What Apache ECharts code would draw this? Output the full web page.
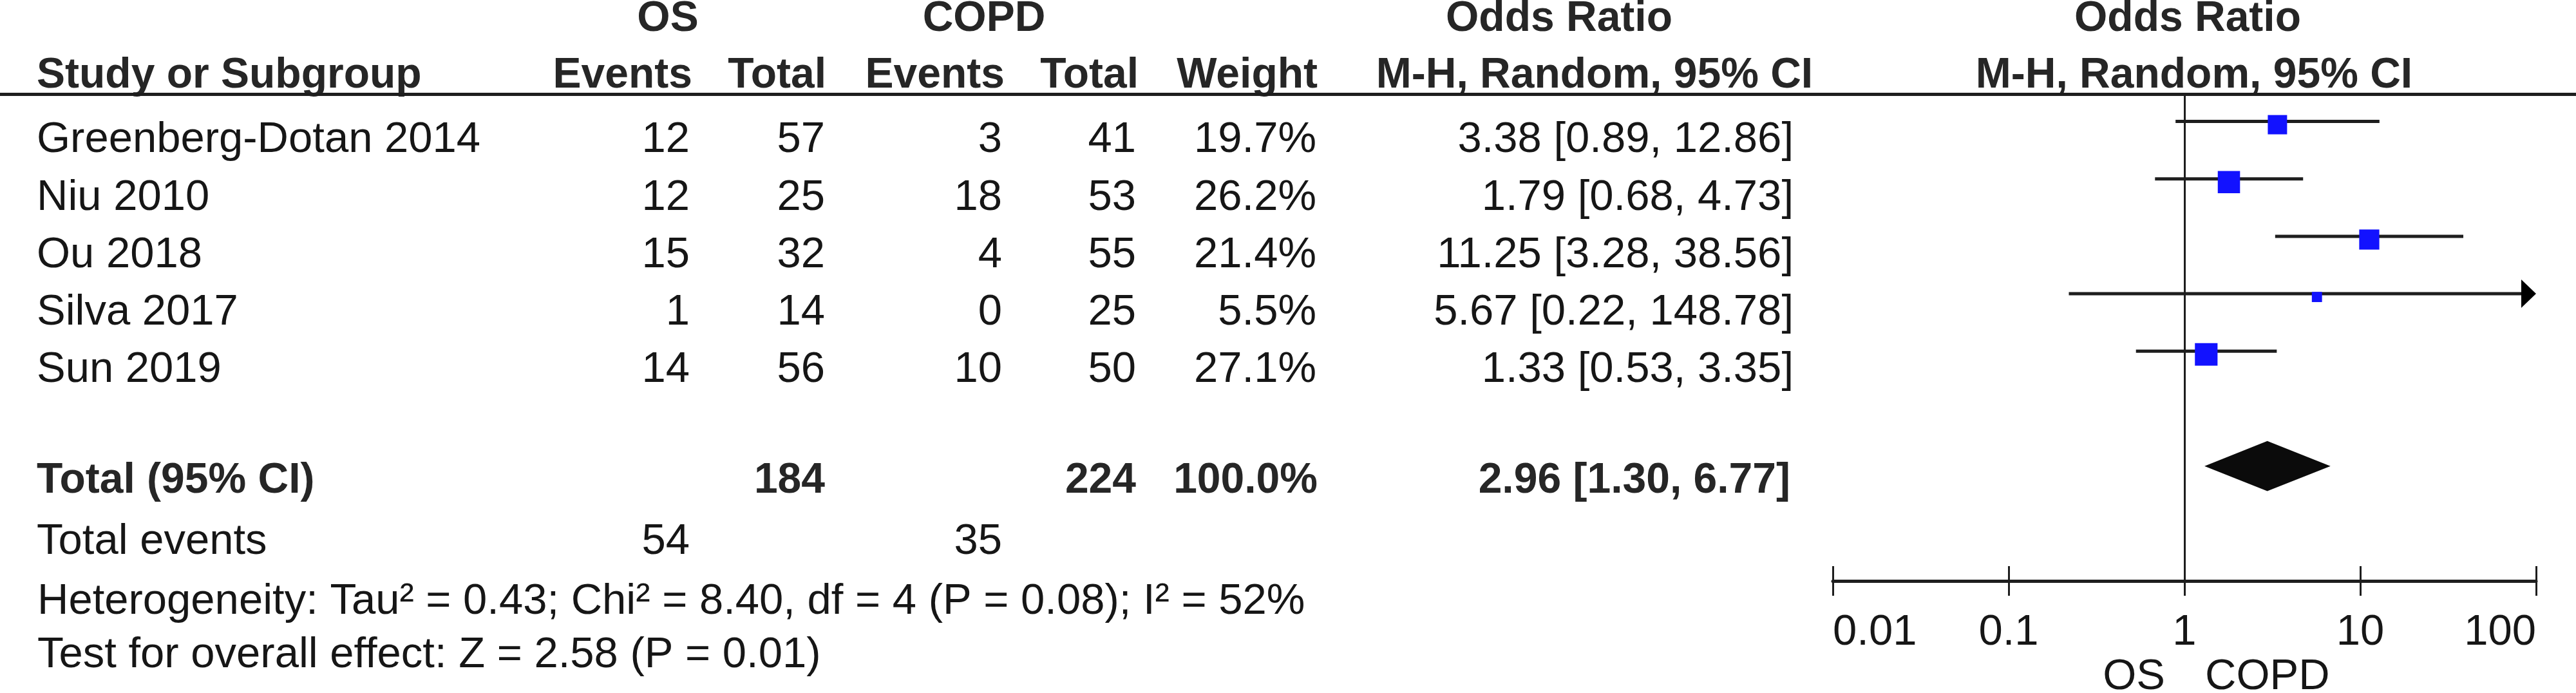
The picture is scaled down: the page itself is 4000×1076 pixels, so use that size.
<!DOCTYPE html>
<html>
<head>
<meta charset="utf-8">
<script src="https://cdn.jsdelivr.net/npm/echarts@6/dist/echarts.min.js"></script>
<style>html,body{margin:0;padding:0;background:#fff}#c{width:4000px;height:1076px}</style>
</head>
<body>
<div id="c"></div>
<script>
// ---------------- data ----------------
const studies = ['Greenberg-Dotan 2014', 'Niu 2010', 'Ou 2018', 'Silva 2017', 'Sun 2019'];
const osEvents = [12, 12, 15, 1, 14];
const osTotal = [57, 25, 32, 14, 56];
const copdEvents = [3, 18, 4, 0, 10];
const copdTotal = [41, 53, 55, 25, 50];
const weights = [19.7, 26.2, 21.4, 5.5, 27.1];
const oddsRatio = [3.38, 1.79, 11.25, 5.67, 1.33];
const ciLow = [0.89, 0.68, 3.28, 0.22, 0.53];
const ciHigh = [12.86, 4.73, 38.56, 148.78, 3.35];

const totalLabel = 'Total (95% CI)';
const totalOsN = 184;
const totalCopdN = 224;
const totalWeight = 100.0;
const pooledOR = 2.96;
const pooledLow = 1.30;
const pooledHigh = 6.77;

const totalEventsLabel = 'Total events';
const totalOsEvents = 54;
const totalCopdEvents = 35;

const heterogeneityText = 'Heterogeneity: Tau\u00b2 = 0.43; Chi\u00b2 = 8.40, df = 4 (P = 0.08); I\u00b2 = 52%';
const overallText = 'Test for overall effect: Z = 2.58 (P = 0.01)';

const groupHeaders = ['OS', 'COPD'];
const columnHeaders = ['Study or Subgroup', 'Events', 'Total', 'Events', 'Total', 'Weight'];
const orHeaderTop = 'Odds Ratio';
const orHeaderSub = 'M-H, Random, 95% CI';
const favourLabels = ['OS', 'COPD'];

const tickValues = [0.01, 0.1, 1, 10, 100];
const tickLabels = ['0.01', '0.1', '1', '10', '100'];

// ---------------- layout ----------------
const FONT = "'Liberation Sans', Arial, Helvetica, sans-serif";
const FS_B = 66;
const FS_R = 67;
const REG = '#161616';
const BOLD = '#262626';
const LINE = '#1e1e1e';
const BLUE = '#1212ff';
const axisMin = tickValues[0], axisMax = tickValues[tickValues.length - 1];

const forestTop = 144, forestBottomPx = 902, H = 1076;
const rowMin = -0.5, rowMax = 8;
const rowH = (forestBottomPx - forestTop) / (rowMax - rowMin);
const row0 = forestTop - rowMin * rowH;
const tableRowMin = (0 - row0) / rowH;
const tableRowMax = (H - row0) / rowH;

const TXT = 0.33;          // text sits a little below the marker line
const rowHead1 = -1.78, rowHead2 = -0.79, rowTotal = 6.26, rowEvents = 7.32, rowHet = 8.37, rowTest = 9.3, rowFav = 9.68;
const headerLineRow = -0.47;
const totalRow = 6;

const colX = { study: 57, osEv: 1071, osTot: 1281, copdEv: 1556, copdTot: 1764, weight: 2044, orTxt: 2785 };
const headX = { os: 1037, copd: 1528, or1: 2421, mh1: 2476, or2: 3397, mh2: 3407, ev1: 1075, tot1: 1283, ev2: 1560, tot2: 1768, w: 2046 };

// ---------------- text cells ----------------
const cells = [];
function cell(x, row, text, align, bold) { cells.push({ x, row, text: String(text), align, bold: !!bold }); }

cell(headX.os, rowHead1, groupHeaders[0], 'center', true);
cell(headX.copd, rowHead1, groupHeaders[1], 'center', true);
cell(headX.or1, rowHead1, orHeaderTop, 'center', true);
cell(headX.or2, rowHead1, orHeaderTop, 'center', true);
cell(colX.study, rowHead2, columnHeaders[0], 'left', true);
cell(headX.ev1, rowHead2, columnHeaders[1], 'right', true);
cell(headX.tot1, rowHead2, columnHeaders[2], 'right', true);
cell(headX.ev2, rowHead2, columnHeaders[3], 'right', true);
cell(headX.tot2, rowHead2, columnHeaders[4], 'right', true);
cell(headX.w, rowHead2, columnHeaders[5], 'right', true);
cell(headX.mh1, rowHead2, orHeaderSub, 'center', true);
cell(headX.mh2, rowHead2, orHeaderSub, 'center', true);

const f2 = v => v.toFixed(2);
studies.forEach((s, i) => {
  const r = i + TXT;
  cell(colX.study, r, s, 'left');
  cell(colX.osEv, r, osEvents[i], 'right');
  cell(colX.osTot, r, osTotal[i], 'right');
  cell(colX.copdEv, r, copdEvents[i], 'right');
  cell(colX.copdTot, r, copdTotal[i], 'right');
  cell(colX.weight, r, weights[i].toFixed(1) + '%', 'right');
  cell(colX.orTxt, r, f2(oddsRatio[i]) + ' [' + f2(ciLow[i]) + ', ' + f2(ciHigh[i]) + ']', 'right');
});

cell(colX.study, rowTotal, totalLabel, 'left', true);
cell(colX.osTot, rowTotal, totalOsN, 'right', true);
cell(colX.copdTot, rowTotal, totalCopdN, 'right', true);
cell(colX.weight + 2, rowTotal, totalWeight.toFixed(1) + '%', 'right', true);
cell(colX.orTxt - 5, rowTotal, f2(pooledOR) + ' [' + f2(pooledLow) + ', ' + f2(pooledHigh) + ']', 'right', true);

cell(colX.study, rowEvents, totalEventsLabel, 'left');
cell(colX.osEv, rowEvents, totalOsEvents, 'right');
cell(colX.copdEv, rowEvents, totalCopdEvents, 'right');
cell(colX.study + 1, rowHet, heterogeneityText, 'left');
cell(colX.study + 1, rowTest, overallText, 'left');
cell(3362, rowFav, favourLabels[0], 'right');
cell(3424, rowFav, favourLabels[1], 'left');

// ---------------- chart ----------------
const chart = echarts.init(document.getElementById('c'), null, { renderer: 'canvas', width: 4000, height: 1076 });

function tickFormatter(v) {
  let best = 0, bd = Infinity;
  tickValues.forEach((t, k) => { const d = Math.abs(Math.log10(t) - Math.log10(v)); if (d < bd) { bd = d; best = k; } });
  return tickLabels[best];
}

const studyData = studies.map((s, i) => [i, oddsRatio[i], ciLow[i], ciHigh[i], weights[i]]);

const option = {
  backgroundColor: '#ffffff',
  animation: false,
  grid: [
    { left: 0, right: 0, top: 0, bottom: 0, outerBoundsMode: 'none', containLabel: false },
    { left: 2846, right: 4000 - 3938, top: forestTop, bottom: H - forestBottomPx, outerBoundsMode: 'none', containLabel: false }
  ],
  xAxis: [
    { gridIndex: 0, type: 'value', min: 0, max: 4000, show: false },
    {
      gridIndex: 1, type: 'log', logBase: 10, min: axisMin, max: axisMax, position: 'bottom',
      axisLine: { show: true, onZero: false, lineStyle: { color: LINE, width: 5 } },
      axisTick: { show: true, inside: false, length: 23, lineStyle: { color: LINE, width: 3 } },
      minorTick: { show: false },
      splitLine: { show: false },
      axisLabel: {
        show: true, margin: 47, fontSize: FS_R, fontFamily: FONT, color: REG,
        formatter: tickFormatter, alignMinLabel: 'left', alignMaxLabel: 'right',
        showMinLabel: true, showMaxLabel: true, hideOverlap: false
      }
    },
    {
      gridIndex: 1, type: 'log', logBase: 10, min: axisMin, max: axisMax, position: 'bottom', offset: 0,
      axisLine: { show: false, onZero: false },
      axisTick: { show: true, inside: true, length: 23, lineStyle: { color: LINE, width: 3 } },
      splitLine: { show: false },
      axisLabel: { show: false }
    }
  ],
  yAxis: [
    { gridIndex: 0, type: 'value', min: tableRowMin, max: tableRowMax, inverse: true, show: false },
    { gridIndex: 1, type: 'value', min: rowMin, max: rowMax, inverse: true, show: false }
  ],
  series: [
    {
      type: 'custom', name: 'table', xAxisIndex: 0, yAxisIndex: 0, clip: false, silent: true,
      data: cells.map(c => [c.x, c.row]),
      renderItem: function (params, api) {
        const c = cells[params.dataIndex];
        const p = api.coord([c.x, c.row]);
        return {
          type: 'text',
          style: {
            x: p[0], y: p[1], text: c.text,
            textAlign: c.align, textVerticalAlign: 'middle',
            font: (c.bold ? 'bold ' + FS_B : FS_R) + 'px ' + FONT,
            fill: c.bold ? BOLD : REG
          }
        };
      },
      markLine: {
        silent: true, symbol: 'none', label: { show: false },
        lineStyle: { color: LINE, width: 5, type: 'solid' },
        data: [{ yAxis: headerLineRow }]
      }
    },
    {
      type: 'custom', name: 'studies', xAxisIndex: 1, yAxisIndex: 1, clip: false, silent: true,
      data: studyData,
      renderItem: function (params, api) {
        const row = api.value(0), or = api.value(1), lo = api.value(2), hi = api.value(3), w = api.value(4);
        const y = api.coord([or, row])[1];
        const xOr = api.coord([or, row])[0];
        const xLo = api.coord([Math.max(lo, axisMin), row])[0];
        const over = hi > axisMax;
        const xHi = api.coord([Math.min(hi, axisMax), row])[0];
        const children = [];
        children.push({ type: 'line', shape: { x1: xLo, y1: y, x2: over ? xHi - 18 : xHi, y2: y }, style: { stroke: LINE, lineWidth: 5 } });
        if (over) {
          children.push({ type: 'polygon', shape: { points: [[xHi, y], [xHi - 23, y - 22], [xHi - 23, y + 22]] }, style: { fill: '#000' } });
        }
        const side = 6.75 * Math.sqrt(w);
        children.push({ type: 'rect', shape: { x: xOr - side / 2, y: y + 5 - side / 2, width: side, height: side }, style: { fill: BLUE } });
        return { type: 'group', children };
      },
      markLine: {
        silent: true, symbol: 'none', label: { show: false },
        lineStyle: { color: LINE, width: 3, type: 'solid' },
        data: [{ xAxis: 1 }]
      }
    },
    {
      type: 'custom', name: 'pooled', xAxisIndex: 1, yAxisIndex: 1, clip: false, silent: true,
      data: [[totalRow, pooledOR, pooledLow, pooledHigh]],
      renderItem: function (params, api) {
        const row = api.value(0), or = api.value(1), lo = api.value(2), hi = api.value(3);
        const c = api.coord([or, row]);
        const l = api.coord([lo, row]);
        const h = api.coord([hi, row]);
        const top = api.coord([or, row - 0.437]);
        const bot = api.coord([or, row + 0.437]);
        return { type: 'polygon', shape: { points: [[l[0], c[1]], [c[0], top[1]], [h[0], c[1]], [c[0], bot[1]]] }, style: { fill: '#0b0b0b' } };
      }
    }
  ]
};
chart.setOption(option);
</script>
</body>
</html>
